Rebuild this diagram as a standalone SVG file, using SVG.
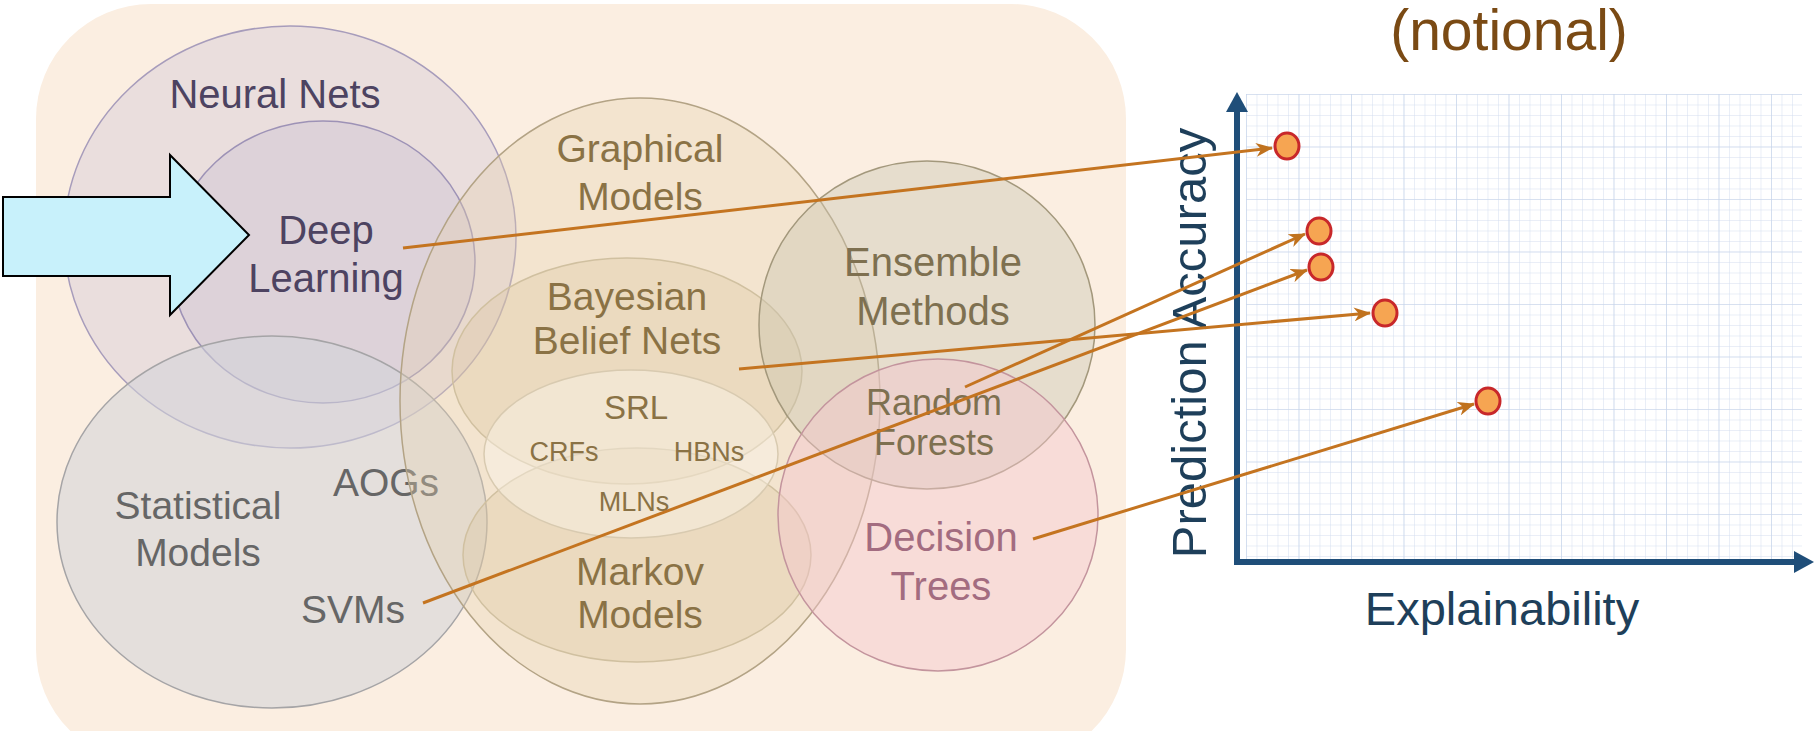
<svg xmlns="http://www.w3.org/2000/svg" width="1816" height="731" viewBox="0 0 1816 731">
<style>
text{font-family:"Liberation Sans",Arial,sans-serif;text-anchor:middle}
.nn{fill:#c6bed8;fill-opacity:.32;stroke:#a79cbb;stroke-width:1.5}
.dl{fill:#bcb2d0;fill-opacity:.28;stroke:#9d92b6;stroke-width:1.5}
.st{fill:#d2d4d8;fill-opacity:.55;stroke:#a5a4a6;stroke-width:1.5}
.gm{fill:#e6d2ae;fill-opacity:.35;stroke:#b3a385;stroke-width:1.5}
.bb{fill:#dcc49a;fill-opacity:.3;stroke:#d0c0a0;stroke-width:1.5}
.srl{fill:#faf3e8;fill-opacity:.45;stroke:#d8cab0;stroke-width:1.5}
.en{fill:#c8c2ae;fill-opacity:.4;stroke:#a3987c;stroke-width:1.5}
.dt{fill:#f4c6cf;fill-opacity:.45;stroke:#c3949d;stroke-width:1.5}
.tp{fill:#4d4361;font-size:40px}
.tg{fill:#8a7245;font-size:39px}
.te{fill:#7e7050;font-size:40px}
.ts{fill:#666;font-size:39px}
.td{fill:#a36c80;font-size:40px}
.sm{fill:#8a7245;font-size:27px}
.con{fill:none;stroke:#c47420;stroke-width:3;marker-end:url(#ah)}
.dot{fill:#f6a552;stroke:#c8282a;stroke-width:3}
.ax{fill:#1e3f5a;font-size:47px}
</style>
<defs>
<marker id="ah" markerWidth="18" markerHeight="14" refX="16" refY="7" orient="auto" markerUnits="userSpaceOnUse">
<path d="M0,0 L17,7 L0,14 L5,7 Z" fill="#c0721e"/>
</marker>
<pattern id="gminor" x="1246" y="94" width="10.5" height="10.5" patternUnits="userSpaceOnUse">
<path d="M0 0V10.5M0 0H10.5" stroke="#d3deef" stroke-width="1" fill="none"/>
</pattern>
<pattern id="gmajor" x="1246" y="94" width="52.5" height="52.5" patternUnits="userSpaceOnUse">
<path d="M0 0V52.5M0 0H52.5" stroke="#c6d4ea" stroke-width="1.2" fill="none"/>
</pattern>
</defs>
<rect x="0" y="0" width="1816" height="731" fill="#ffffff"/>
<rect id="background" x="36" y="4" width="1090" height="760" rx="115" ry="115" fill="#fbeee1"/>

<g id="neural-nets"><ellipse class="nn" cx="290" cy="237" rx="226" ry="211"/><text class="tp" x="275" y="108">Neural Nets</text></g>
<g id="deep-learning"><ellipse class="dl" cx="323" cy="262" rx="152" ry="141"/><text class="tp" x="326" y="244">Deep</text><text class="tp" x="326" y="292">Learning</text></g>
<g id="statistical-models"><ellipse class="st" cx="272" cy="522" rx="215" ry="186"/><text class="ts" x="198" y="519">Statistical</text><text class="ts" x="198" y="566">Models</text><text class="ts" x="386" y="496">AOGs</text><text class="ts" x="353" y="623">SVMs</text></g>
<g id="graphical-models"><ellipse class="gm" cx="640" cy="401" rx="240" ry="303"/><text class="tg" x="640" y="162">Graphical</text><text class="tg" x="640" y="210">Models</text></g>
<g id="bayesian-belief-nets"><ellipse class="bb" cx="627" cy="371" rx="175" ry="113"/><text class="tg" x="627" y="310">Bayesian</text><text class="tg" x="627" y="354">Belief Nets</text></g>
<g id="markov-models"><ellipse class="bb" cx="637" cy="555" rx="174" ry="107"/><text class="tg" x="640" y="585">Markov</text><text class="tg" x="640" y="628">Models</text></g>
<g id="srl"><ellipse class="srl" cx="631" cy="454" rx="147" ry="84"/><text class="tg" style="font-size:33px" x="636" y="419">SRL</text><text class="sm" x="564" y="461">CRFs</text><text class="sm" x="709" y="461">HBNs</text><text class="sm" x="634" y="511">MLNs</text></g>
<g id="ensemble-methods"><ellipse class="en" cx="927" cy="325" rx="168" ry="164"/><text class="te" x="933" y="276">Ensemble</text><text class="te" x="933" y="325">Methods</text></g>
<g id="decision-trees"><ellipse class="dt" cx="938" cy="515" rx="160" ry="156"/><text class="td" x="941" y="551">Decision</text><text class="td" x="941" y="600">Trees</text></g>
<g id="random-forests"><text class="te" style="font-size:36px" x="934" y="415">Random</text><text class="te" style="font-size:36px" x="934" y="455">Forests</text></g>

<g id="pointer"><path d="M3,197 L170,197 L170,155 L249,235 L170,315 L170,276 L3,276 Z" fill="#c8f1fb" stroke="#000" stroke-width="2"/></g>

<g id="chart">
<rect x="1246" y="94" width="556" height="466" fill="url(#gminor)"/>
<rect x="1246" y="94" width="556" height="466" fill="url(#gmajor)"/>
<line x1="1237" y1="565" x2="1237" y2="106" stroke="#1f4e79" stroke-width="6"/>
<polygon points="1237,92 1226,112 1248,112" fill="#1f4e79"/>
<line x1="1234" y1="562" x2="1796" y2="562" stroke="#1f4e79" stroke-width="6"/>
<polygon points="1814,562 1794,551 1794,573" fill="#1f4e79"/>
<text class="ax" style="font-size:49px" transform="translate(1206,343) rotate(-90)">Prediction Accuracy</text>
<text class="ax" x="1502" y="625">Explainability</text>
<text x="1509" y="50" style="font-size:57px;fill:#7a4a14">(notional)</text>
</g>

<g id="connectors">
<line class="con" x1="403" y1="248" x2="1272" y2="148"/>
<line class="con" x1="739" y1="369" x2="1370" y2="313"/>
<line class="con" x1="965" y1="387" x2="1305" y2="234"/>
<line class="con" x1="423" y1="603" x2="1307" y2="270"/>
<line class="con" x1="1033" y1="539" x2="1474" y2="404"/>
</g>

<g id="points">
<ellipse class="dot" cx="1287" cy="146" rx="12" ry="13"/>
<ellipse class="dot" cx="1319" cy="231" rx="12" ry="13"/>
<ellipse class="dot" cx="1321" cy="267" rx="12" ry="13"/>
<ellipse class="dot" cx="1385" cy="313" rx="12" ry="13"/>
<ellipse class="dot" cx="1488" cy="401" rx="12" ry="13"/>
</g>
</svg>
